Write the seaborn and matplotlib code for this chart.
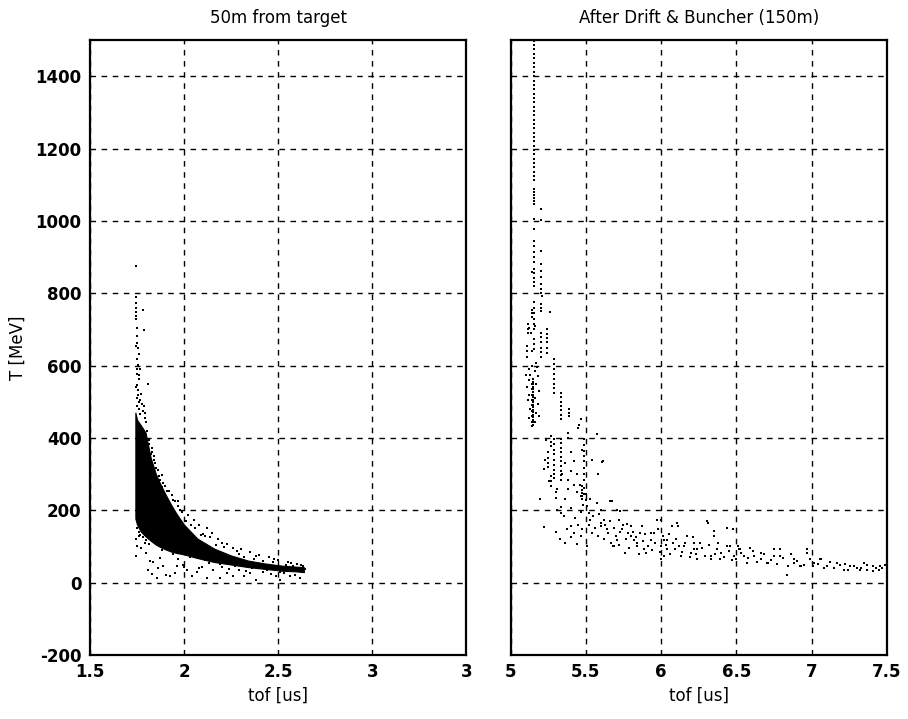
"""
Time of flight vs kinetic energy, two stations along the line.
"""

import numpy as np
import matplotlib
matplotlib.use("Agg")
import matplotlib.pyplot as plt
import seaborn as sns

# ---- data ----

# 50m from target: the dense core of the band (edges)
left_band_tof = [1.741, 1.750, 1.770, 1.795, 1.822, 1.850, 1.875, 1.900, 1.930,
                 1.960, 2.000, 2.070, 2.160, 2.250, 2.340, 2.430, 2.520, 2.600, 2.636]
left_band_high = [470, 450, 435, 415, 346, 300, 271, 245, 216,
                  190, 160, 122, 94, 75, 61, 53, 47, 44, 43]
left_band_low = [177, 160, 141, 128, 116, 105, 98, 92, 86,
                 82, 78, 68, 57, 50, 43, 38, 33, 31, 29]

# 50m from target: single particles outside the core
left_tof = [
    1.745, 1.746, 1.745, 1.747, 1.745, 1.748, 1.779, 1.785, 1.750, 1.752,
    1.757, 1.762, 1.748, 1.755, 1.766, 1.750, 1.760, 1.810, 1.748, 1.757,
    1.771, 1.750, 1.762, 1.776, 1.748, 1.758, 1.781, 1.766, 1.792, 1.745,
    1.746, 1.747, 1.752, 1.760, 1.745, 1.755, 1.768, 1.785, 1.790, 1.800,
    1.800, 1.812, 1.830, 1.822, 1.845, 1.862, 1.882, 1.871, 1.900, 1.918,
    1.935, 1.952, 1.968, 1.990, 2.020, 2.050, 2.078, 2.120, 2.150, 2.140,
    2.180, 2.230, 2.260, 2.300, 2.350, 2.400, 2.450, 2.500, 2.550, 2.600,
    1.840, 1.880, 1.970, 2.060, 2.100, 2.200, 2.280, 2.380, 2.480, 2.570,
    2.620,
    1.745, 1.745, 1.748, 1.770, 1.800, 1.810, 1.830, 1.855, 1.890, 1.905,
    1.925, 1.950, 1.995, 2.014, 2.040, 2.067, 2.094, 2.120, 2.156, 2.190,
    2.227, 2.260, 2.290, 2.316, 2.350, 2.380, 2.420, 2.490, 2.510, 2.560,
    2.617, 1.835, 1.872, 1.970, 2.130, 2.000, 2.080, 2.200, 2.240, 2.330,
    2.460, 2.530, 2.590, 1.790, 1.760, 1.820, 1.860, 1.960,
    1.805, 1.815, 1.828, 1.838, 1.852, 1.866, 1.886, 1.910, 1.942, 1.978,
    2.010, 2.035, 2.090, 2.110, 2.170, 2.210, 2.290, 2.320, 2.370, 2.420,
    2.470, 2.540, 2.580, 2.630, 1.780, 1.795, 1.815, 1.880, 1.940, 2.030,
    2.110, 2.190, 2.270, 2.360, 2.440, 2.510, 2.640, 1.752, 1.758, 1.764,
]
left_T = [
    875, 790, 772, 748, 728, 705, 755, 697, 682, 663,
    648, 632, 617, 602, 590, 576, 562, 548, 546, 532,
    521, 511, 500, 494, 488, 481, 474, 466, 456, 655,
    760, 736, 590, 575, 540, 518, 505, 488, 470, 445,
    400, 382, 372, 356, 332, 312, 298, 284, 268, 254,
    241, 226, 212, 196, 186, 172, 160, 150, 138, 127,
    121, 108, 97, 93, 84, 77, 70, 63, 58, 52,
    350, 265, 225, 150, 135, 110, 88, 74, 65, 54,
    48,
    75, 120, 100, 97, 83, 36, 25, 14, 47, 22,
    17, 28, 50, 36, 17, 30, 44, 14, 36, 14,
    28, 17, 36, 17, 28, 8, 30, 17, 8, 17,
    14, 58, 69, 64, 55, 42, 40, 42, 38, 33,
    24, 27, 20, 110, 130, 60, 40, 45,
    420, 395, 360, 340, 318, 296, 276, 252, 228, 200,
    170, 158, 132, 128, 104, 98, 80, 72, 66, 60,
    56, 50, 46, 47, 125, 118, 108, 90, 80, 72,
    63, 52, 46, 40, 35, 30, 38, 150, 140, 132,
]

# After drift & buncher: the thin vertical spike at the bunch head
right_spike_tof = 5.153
right_spike_T = [
    1498, 1486, 1474, 1462, 1450, 1437, 1425, 1412, 1400, 1388, 1376, 1364,
    1352, 1340, 1328, 1316, 1304, 1292, 1280, 1268, 1256, 1244, 1232, 1220,
    1208, 1196, 1184, 1172, 1160, 1148, 1136, 1124, 1112, 1088, 1080, 1072,
    1064, 1056, 1048, 1005, 977, 944, 930, 915, 900, 886, 866, 855, 842, 830,
    775, 760, 745, 730, 715, 700,
]

# After drift & buncher: all other particles
right_tof = [
    5.204, 5.204, 5.204, 5.200, 5.200, 5.200, 5.140, 5.210, 5.205, 5.261,
    5.140, 5.113, 5.125, 5.155, 5.204, 5.204, 5.204, 5.204, 5.204, 5.204,
    5.144, 5.144, 5.115, 5.115, 5.160, 5.135,
    5.244, 5.244, 5.244, 5.244, 5.244, 5.244,
    5.204, 5.204, 5.204, 5.204, 5.204, 5.204,
    5.155, 5.155, 5.155, 5.110, 5.110, 5.110, 5.144, 5.170,
    5.288, 5.288, 5.288, 5.288, 5.288, 5.288, 5.288, 5.288,
    5.150, 5.150, 5.150, 5.150, 5.150, 5.150, 5.150, 5.150, 5.150, 5.150,
    5.150, 5.150, 5.150, 5.150, 5.150, 5.150, 5.150, 5.150, 5.150,
    5.140, 5.140, 5.140, 5.140, 5.140, 5.140, 5.140, 5.140, 5.140,
    5.120, 5.130, 5.160, 5.180, 5.120, 5.170, 5.110, 5.190, 5.125, 5.165,
    5.180, 5.115, 5.130, 5.170, 5.190, 5.120, 5.160, 5.145, 5.175, 5.105,
    5.332, 5.332, 5.332, 5.332, 5.332, 5.332, 5.332,
    5.332, 5.332, 5.332, 5.332, 5.332, 5.332, 5.332, 5.332, 5.332, 5.332,
    5.288, 5.288, 5.288, 5.288, 5.288, 5.288, 5.288, 5.288, 5.288,
    5.387, 5.387, 5.387,
    5.465, 5.458, 5.450, 5.576, 5.380, 5.380, 5.266, 5.266, 5.266, 5.235,
    5.250, 5.250, 5.250, 5.250, 5.220, 5.400, 5.420, 5.476, 5.487, 5.487,
    5.487, 5.487, 5.487, 5.487, 5.487, 5.487, 5.540, 5.610, 5.580, 5.232,
    5.199, 5.255, 5.310,
    5.266, 5.266, 5.266, 5.300, 5.300, 5.332, 5.332, 5.310, 5.354, 5.376,
    5.400, 5.420, 5.465, 5.476,
    5.476, 5.476, 5.476, 5.476, 5.476, 5.490, 5.490, 5.465, 5.500,
    5.510, 5.520, 5.530, 5.530, 5.540, 5.510, 5.575, 5.600, 5.600, 5.620,
    5.640, 5.650, 5.660, 5.680, 5.710, 5.710, 5.720, 5.740, 5.760, 5.780,
    5.800, 5.820, 5.840, 5.860, 5.870, 5.900, 5.930, 5.950, 5.970, 5.980,
    6.000, 6.010, 6.020, 6.040, 6.070, 6.090, 6.110, 6.130, 6.150, 6.200,
    6.220, 6.240, 6.310, 6.330, 6.350, 6.400, 6.440, 6.480, 6.500, 6.520,
    6.530, 6.570, 6.620, 6.660, 6.710, 6.750, 6.790, 6.840, 6.880, 6.920,
    6.970, 7.010, 7.060, 7.100, 7.150, 7.190, 7.240, 7.280, 7.330, 7.370,
    7.410, 7.450, 7.470, 7.490,
    5.550, 5.600, 5.617, 5.675, 5.730, 5.775, 5.686, 5.797, 5.840, 5.885,
    5.930, 5.996, 5.996, 6.018, 6.040, 6.080, 6.107, 6.130, 6.170, 6.218,
    6.240, 6.260, 6.306, 6.328, 6.350, 6.370, 6.394, 6.440, 6.460, 6.482,
    6.527, 6.570, 6.593, 6.660, 6.700, 6.748, 6.790, 6.836, 6.880, 6.926,
    6.970, 7.014, 7.058, 7.102, 7.170, 7.213, 7.257, 7.324, 7.368, 7.410,
    7.456, 7.490,
    5.520, 5.560, 5.580, 5.590, 5.620, 5.630, 5.660, 5.670, 5.690, 5.700,
    5.720, 5.730, 5.750, 5.770, 5.790, 5.810, 5.830, 5.850, 5.880, 5.890,
    5.910, 5.940, 5.960, 5.990, 6.030, 6.050, 6.060, 6.100, 6.120, 6.140,
    6.160, 6.190, 6.210, 6.230, 6.270, 6.290, 6.320, 6.360, 6.380, 6.420,
    6.450, 6.470, 6.510, 6.550, 6.580, 6.610, 6.640, 6.680, 6.730, 6.770,
    6.810, 6.860, 6.900, 6.950, 6.990, 7.040, 7.080, 7.120, 7.220, 7.300,
    7.350, 7.430,
    5.340, 5.360, 5.380, 5.400, 5.420, 5.440, 5.440, 5.460, 5.480, 5.500,
    5.360, 5.380, 5.400, 5.430, 5.450, 5.470,
    5.300, 5.330, 5.360, 5.400, 5.440, 5.220,
]
right_T = [
    1032, 1003, 916, 880, 862, 845, 858, 792, 760, 747,
    755, 714, 705, 820, 825, 813, 800, 770, 760, 750,
    745, 735, 700, 690, 710, 690,
    700, 688, 676, 664, 650, 636,
    690, 678, 665, 650, 638, 625,
    673, 660, 645, 654, 640, 625, 640, 607,
    617, 604, 590, 577, 563, 550, 537, 525,
    562, 555, 548, 541, 534, 527, 520, 513, 506, 499,
    492, 485, 478, 471, 464, 457, 450, 443, 436,
    550, 535, 520, 505, 490, 475, 460, 445, 432,
    590, 575, 585, 570, 560, 550, 540, 530, 520, 510,
    495, 505, 480, 470, 460, 455, 445, 600, 595, 575,
    525, 512, 500, 488, 476, 463, 451,
    396, 385, 372, 360, 348, 336, 323, 310, 298, 285,
    396, 382, 368, 355, 340, 326, 312, 299, 288,
    479, 470, 460,
    451, 437, 428, 410, 415, 400, 404, 390, 377, 395,
    360, 345, 330, 320, 313, 360, 335, 368, 396, 380,
    365, 350, 335, 318, 300, 285, 340, 333, 300, 340,
    230, 280, 260,
    295, 280, 266, 250, 235, 210, 193, 200, 183, 147,
    156, 138, 128, 147,
    266, 257, 248, 239, 230, 262, 245, 240, 228,
    211, 193, 230, 174, 138, 100, 220, 202, 156, 174,
    147, 138, 225, 100, 202, 119, 174, 147, 83, 138,
    156, 119, 100, 138, 156, 83, 119, 138, 174, 147,
    100, 128, 74, 119, 156, 92, 156, 74, 100, 83,
    110, 92, 165, 64, 128, 83, 100, 147, 64, 92,
    83, 55, 74, 64, 55, 74, 92, 46, 55, 46,
    83, 46, 64, 46, 41, 50, 36, 46, 41, 36,
    46, 36, 41, 50,
    184, 165, 336, 225, 198, 161, 101, 128, 110, 92,
    137, 174, 64, 119, 92, 110, 165, 73, 128, 92,
    64, 110, 170, 73, 142, 92, 64, 152, 101, 73,
    92, 55, 96, 83, 55, 92, 73, 22, 64, 46,
    92, 55, 64, 46, 55, 36, 46, 36, 50, 32,
    46, 50,
    160, 150, 130, 190, 120, 160, 170, 110, 150, 130,
    105, 140, 160, 120, 95, 140, 125, 80, 115, 135,
    100, 90, 110, 85, 105, 135, 80, 120, 100, 85,
    110, 70, 125, 80, 95, 75, 105, 80, 110, 70,
    88, 62, 100, 75, 68, 88, 58, 78, 62, 52,
    68, 78, 60, 50, 65, 52, 40, 58, 52, 40,
    55, 40,
    300, 330, 285, 310, 270, 250, 300, 270, 215, 245,
    230, 260, 205, 180, 160, 195,
    140, 120, 110, 125, 108, 155,
]

titles = ["50m from target", "After Drift & Buncher (150m)"]
left_xticks = [1.5, 2, 2.5, 3, 3.5]
left_xticklabels = ["1.5", "2", "2.5", "3", "3"]
right_xticks = [5, 5.5, 6, 6.5, 7, 7.5]
right_xticklabels = ["5", "5.5", "6", "6.5", "7", "7.5"]
yticks = [-200, 0, 200, 400, 600, 800, 1000, 1200, 1400]

# ---- plot ----
sns.set_style("white")
plt.rcParams["font.family"] = ["DejaVu Sans"]
plt.rcParams["axes.unicode_minus"] = False
for key in ("text.color", "axes.labelcolor", "xtick.color", "ytick.color"):
    plt.rcParams[key] = "black"

fig, (ax1, ax2) = plt.subplots(1, 2, sharey=True, figsize=(9.08, 7.19), dpi=100)
fig.subplots_adjust(left=90 / 908, right=887 / 908, top=1 - 40 / 719,
                    bottom=1 - 655 / 719, wspace=0.117)

dot = dict(color="black", marker="s", s=2.6, linewidth=0, legend=False)

# left panel: dense core + stray particles
ax1.fill_between(left_band_tof, left_band_low, left_band_high,
                 color="black", linewidth=0.8, edgecolor="black")
sns.scatterplot(x=left_tof, y=left_T, ax=ax1, **dot)

# right panel
sns.scatterplot(x=[right_spike_tof] * len(right_spike_T), y=right_spike_T,
                ax=ax2, **dot)
sns.scatterplot(x=right_tof, y=right_T, ax=ax2, **dot)

ax1.set_xlim(1.5, 3.5)
ax2.set_xlim(5, 7.5)
ax1.set_ylim(-200, 1500)

ax1.set_xticks(left_xticks)
ax1.set_xticklabels(left_xticklabels)
ax2.set_xticks(right_xticks)
ax2.set_xticklabels(right_xticklabels)
ax1.set_yticks(yticks)

for ax, title in zip((ax1, ax2), titles):
    ax.set_title(title, fontsize=12, pad=12, color="black")
    ax.set_xlabel("tof [us]", fontsize=12, labelpad=4)
    ax.grid(True, color="black", linestyle=(0, (4, 4)), linewidth=1.0)
    ax.set_axisbelow(False)
    for s in ax.spines.values():
        s.set_color("black")
        s.set_linewidth(1.6)
    ax.tick_params(length=0, labelsize=12, pad=6)
    for lab in ax.get_xticklabels() + ax.get_yticklabels():
        lab.set_fontweight("bold")

ax2.tick_params(labelleft=False)
ax1.set_ylabel("T [MeV]", fontsize=12, labelpad=6)

fig.savefig("out.png", dpi=100)
